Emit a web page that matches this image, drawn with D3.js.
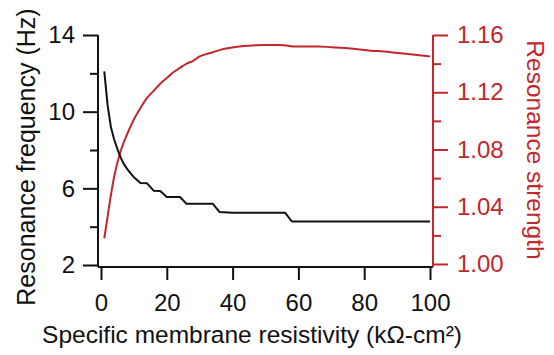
<!DOCTYPE html>
<html>
<head>
<meta charset="utf-8">
<script src="https://cdn.jsdelivr.net/npm/d3@7"></script>
<style>
  body { margin: 0; background: #fff; }
  svg { font-family: "Liberation Sans", Arial, Helvetica, sans-serif; }
</style>
</head>
<body>
<div id="chart"></div>
<script>
// Resonance frequency (black, left axis) vs specific membrane resistivity
const freqX = [1, 2, 3, 4, 5, 6, 7, 8, 9, 10, 12, 14, 16, 18, 20, 24, 26, 34, 36, 40, 56, 58, 100];
const freqY = [12.1, 10.35, 9.2, 8.55, 8.05, 7.6, 7.25, 7.0, 6.78, 6.58, 6.28, 6.26, 5.88, 5.86, 5.55, 5.55, 5.19, 5.19, 4.77, 4.72, 4.72, 4.27, 4.27];

// Resonance strength (red, right axis)
const strX = [1, 2, 3, 4, 5, 6, 8, 10, 12, 14, 16, 18, 20, 22, 24, 26, 28, 30, 34, 38, 42, 46, 50, 54, 57, 58, 62, 66, 70, 74, 78, 82, 86, 90, 94, 100];
const strY = [1.018, 1.033, 1.048, 1.061, 1.071, 1.079, 1.091, 1.101, 1.109, 1.116, 1.121, 1.126, 1.130, 1.134, 1.137, 1.140, 1.142, 1.145, 1.148, 1.1505, 1.152, 1.1527, 1.153, 1.153, 1.1525, 1.152, 1.152, 1.152, 1.1515, 1.151, 1.150, 1.149, 1.1485, 1.1475, 1.1465, 1.145];

const xTicks = [0, 20, 40, 60, 80, 100];
const leftTicks = [2, 6, 10, 14];
const leftMinor = [4, 8, 12];
const rightTicks = [1.00, 1.04, 1.08, 1.12, 1.16];
const rightMinor = [1.02, 1.06, 1.10, 1.14];

const xTitle = "Specific membrane resistivity (kΩ-cm²)";
const leftTitle = "Resonance frequency (Hz)";
const rightTitle = "Resonance strength";

const red = "#c1272d";
const width = 554, height = 355;
const plotLeft = 98, plotRight = 433, plotTop = 35, plotBottom = 267;

const x = d3.scaleLinear().domain([0, 100]).range([101, 430]);
const yL = d3.scaleLinear().domain([2, 14]).range([265, 35]);
const yR = d3.scaleLinear().domain([1.00, 1.16]).range([264, 35]);

const svg = d3.select("#chart")
  .append("svg")
  .attr("width", width)
  .attr("height", height);

// bottom axis
const gx = svg.append("g")
  .attr("transform", "translate(0," + plotBottom + ")")
  .call(d3.axisBottom(x).tickValues(xTicks).tickSize(13).tickSizeOuter(0).tickPadding(14));
gx.select(".domain").attr("d", "M" + plotLeft + ",0H" + plotRight);

// left axis
const gl = svg.append("g")
  .attr("transform", "translate(" + plotLeft + ",0)")
  .call(d3.axisLeft(yL).tickValues(leftTicks).tickSize(15).tickSizeOuter(0).tickPadding(8));
gl.select(".domain").attr("d", "M0," + plotTop + "V" + plotBottom);
svg.append("g")
  .attr("transform", "translate(" + plotLeft + ",0)")
  .call(d3.axisLeft(yL).tickValues(leftMinor).tickSize(8).tickFormat(""))
  .select(".domain").remove();

// right axis
const gr = svg.append("g")
  .attr("class", "right")
  .attr("transform", "translate(" + plotRight + ",0)")
  .call(d3.axisRight(yR).tickValues(rightTicks).tickFormat(d3.format(".2f")).tickSize(15).tickSizeOuter(0).tickPadding(9));
gr.select(".domain").attr("d", "M0," + plotTop + "V" + plotBottom);
svg.append("g")
  .attr("class", "right")
  .attr("transform", "translate(" + plotRight + ",0)")
  .call(d3.axisRight(yR).tickValues(rightMinor).tickSize(8).tickFormat(""))
  .select(".domain").remove();

svg.selectAll(".domain, .tick line")
  .attr("stroke", "#111")
  .attr("stroke-width", 2);
svg.selectAll(".tick text")
  .attr("fill", "#111")
  .style("font-size", "24px");
svg.selectAll(".right .domain, .right .tick line").attr("stroke", red);
svg.selectAll(".right .tick text").attr("fill", red);

// lines
const freqData = freqX.map((d, i) => [d, freqY[i]]);
const strData = strX.map((d, i) => [d, strY[i]]);

svg.append("path")
  .datum(strData)
  .attr("fill", "none")
  .attr("stroke", red)
  .attr("stroke-width", 2)
  .attr("d", d3.line().x(d => x(d[0])).y(d => yR(d[1])).curve(d3.curveMonotoneX));

svg.append("path")
  .datum(freqData)
  .attr("fill", "none")
  .attr("stroke", "#111")
  .attr("stroke-width", 2)
  .attr("stroke-linejoin", "round")
  .attr("d", d3.line().x(d => x(d[0])).y(d => yL(d[1])));

// titles
svg.append("text")
  .attr("x", 252)
  .attr("y", 343)
  .attr("text-anchor", "middle")
  .style("font-size", "24.5px")
  .attr("fill", "#111")
  .text(xTitle);

svg.append("text")
  .attr("transform", "translate(35,157) rotate(-90)")
  .attr("text-anchor", "middle")
  .style("font-size", "25px")
  .attr("fill", "#111")
  .text(leftTitle);

svg.append("text")
  .attr("transform", "translate(527,150) rotate(90)")
  .attr("text-anchor", "middle")
  .style("font-size", "24.5px")
  .attr("fill", red)
  .text(rightTitle);
</script>
</body>
</html>
